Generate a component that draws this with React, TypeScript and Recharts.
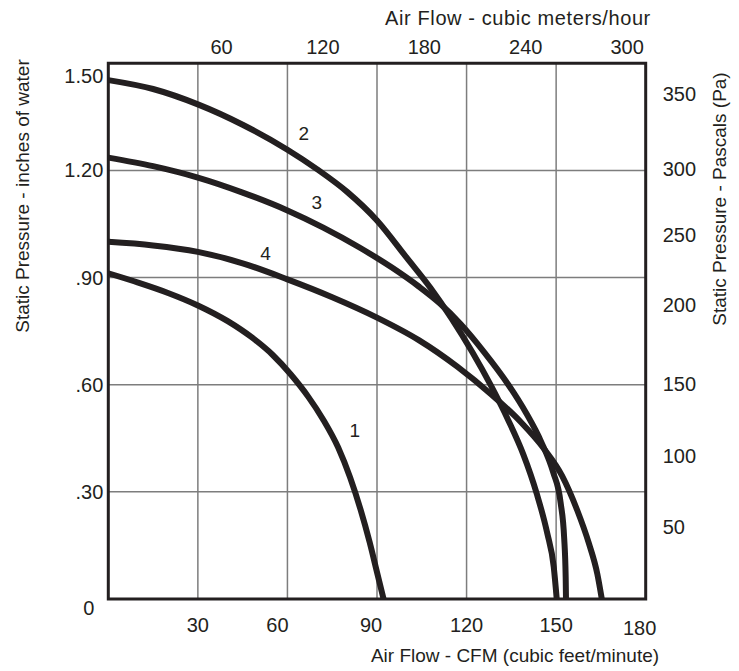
import React from 'react';
import {
  ComposedChart,
  Line,
  XAxis,
  YAxis,
  CartesianGrid,
  ReferenceArea,
  ReferenceDot,
} from 'recharts';

// ---- data (air flow in CFM, static pressure in inches of water) ----
const curve1Flow = [0, 10, 20, 30, 40, 48, 55, 61, 67, 72, 77, 81, 84.5, 87.5, 90, 92.2];
const curve1Pressure = [0.912, 0.886, 0.857, 0.822, 0.778, 0.733, 0.684, 0.63, 0.566, 0.502, 0.424, 0.34, 0.25, 0.16, 0.075, 0];

const curve2Flow = [0, 15, 30, 45, 60, 70, 80, 90, 100, 108, 115, 122, 128, 134, 139, 143.5, 147, 149.2, 150.2];
const curve2Pressure = [1.453, 1.428, 1.385, 1.328, 1.258, 1.203, 1.14, 1.06, 0.955, 0.87, 0.785, 0.69, 0.6, 0.5, 0.405, 0.295, 0.185, 0.09, 0];

const curve3Flow = [0, 15, 30, 45, 60, 72, 84, 95, 104, 111, 118, 126, 134, 140, 145, 149, 151.5, 152.7, 153.2, 153.3];
const curve3Pressure = [1.236, 1.212, 1.18, 1.138, 1.088, 1.04, 0.985, 0.928, 0.875, 0.828, 0.77, 0.69, 0.6, 0.52, 0.44, 0.355, 0.27, 0.17, 0.06, 0];

const curve4Flow = [0, 15, 30, 45, 60, 75, 90, 104, 117, 128, 138, 146, 152, 157, 161, 163.8, 165.3];
const curve4Pressure = [1.0, 0.99, 0.972, 0.94, 0.895, 0.845, 0.788, 0.725, 0.65, 0.575, 0.497, 0.42, 0.345, 0.25, 0.155, 0.07, 0];

const curveNames = ['1', '2', '3', '4'];
const curveLabelFlow = [82.6, 65.5, 69.8, 52.7];
const curveLabelPressure = [0.473, 1.305, 1.112, 0.968];

const cfmTicks = [30, 60, 90, 120, 150, 180];
const cmhTicks = [60, 120, 180, 240, 300];
const inchTicks = [0, 0.3, 0.6, 0.9, 1.2, 1.5];
const inchTickLabels = ['0', '.30', '.60', '.90', '1.20', '1.50'];
const pascalTicks = [50, 100, 150, 200, 250, 300, 350];

const CMH_PER_CFM = 1.699;
const PA_PER_INCH = 249.09;
// the printed metric scale of the original artwork is slightly offset
const metricDomain = [-7, 311];

const titleTop = 'Air Flow - cubic meters/hour';
const titleBottom = 'Air Flow - CFM (cubic feet/minute)';
const titleLeft = 'Static Pressure - inches of water';
const titleRight = 'Static Pressure - Pascals (Pa)';

// ---- styling ----
const INK = '#231f20';
const GRID = '#7d7d7d';
const FONT = '"Liberation Sans", Arial, Helvetica, sans-serif';
const FS = 19;
const TICK_FS = 20;

const toSeries = (f: number[], p: number[]) => f.map((x, i) => ({ cfm: x, inH2O: p[i] }));
const series = [
  toSeries(curve1Flow, curve1Pressure),
  toSeries(curve2Flow, curve2Pressure),
  toSeries(curve3Flow, curve3Pressure),
  toSeries(curve4Flow, curve4Pressure),
];
// metric flow axis carrier (same physical range as the CFM axis)
const metricAxisData = [{ cmh: 0 }, { cmh: 180 * CMH_PER_CFM }];

// small label nudges seen in the original artwork
const bottomTickNudge: Record<number, [number, number]> = { 60: [-10, 0], 90: [-6, 0], 180: [-6, 3] };
const leftTickNudge: Record<number, [number, number]> = { 1.5: [0, 13], 0: [-9, 9] };
const rightTickNudge: Record<number, number> = { 350: -3, 250: -6, 200: -7 };

const BottomTick = (props: any) => {
  const { x, y, payload } = props;
  const n = bottomTickNudge[payload.value] || [0, 0];
  return (
    <text x={x + n[0]} y={y + 26 + n[1]} dy="0.35em" textAnchor="middle" fontSize={TICK_FS} fill={INK} fontFamily={FONT}>
      {payload.value}
    </text>
  );
};

const TopTick = (props: any) => {
  const { x, y, payload } = props;
  return (
    <text x={x} y={y - 16} dy="0.35em" textAnchor="middle" fontSize={TICK_FS} fill={INK} fontFamily={FONT}>
      {Math.round(payload.value)}
    </text>
  );
};

const LeftTick = (props: any) => {
  const { x, y, payload, index } = props;
  const n = leftTickNudge[payload.value] || [0, 0];
  const idx = inchTicks.indexOf(payload.value);
  const label = idx >= 0 ? inchTickLabels[idx] : inchTickLabels[index];
  return (
    <text x={x - 5 + n[0]} y={y + n[1]} dy="0.35em" textAnchor="end" fontSize={TICK_FS} fill={INK} fontFamily={FONT}>
      {label}
    </text>
  );
};

const RightTick = (props: any) => {
  const { x, y, payload } = props;
  const n = rightTickNudge[payload.value] || 0;
  return (
    <text x={x + 17} y={y + n} dy="0.35em" textAnchor="start" fontSize={TICK_FS} fill={INK} fontFamily={FONT}>
      {payload.value}
    </text>
  );
};

const titleStyle = (cx: number, cy: number, rotate: boolean, size: number, spacing = 0): React.CSSProperties => ({
  position: 'absolute',
  left: cx,
  top: cy,
  transform: `translate(-50%, -50%)${rotate ? ' rotate(-90deg)' : ''}`,
  whiteSpace: 'nowrap',
  fontSize: size,
  letterSpacing: spacing,
  lineHeight: 1,
  color: INK,
  fontFamily: FONT,
});

export default function App() {
  return (
    <div style={{ position: 'absolute', left: 0, top: 0, width: 739, height: 671, background: '#fff', fontFamily: FONT }}>
      <ComposedChart width={739} height={671} margin={{ top: 33.3, right: 33.3, bottom: 42, left: 48.3 }}>
        <XAxis
          xAxisId="bottom"
          dataKey="cfm"
          type="number"
          domain={[0, 180]}
          ticks={cfmTicks}
          interval={0}
          allowDataOverflow
          height={30}
          axisLine={false}
          tickLine={false}
          tickSize={0}
          tickMargin={0}
          tick={BottomTick}
        />
        <XAxis
          xAxisId="top"
          dataKey="cmh"
          orientation="top"
          type="number"
          domain={metricDomain}
          ticks={cmhTicks}
          interval={0}
          allowDataOverflow
          height={30}
          axisLine={false}
          tickLine={false}
          tickSize={0}
          tickMargin={0}
          tick={TopTick}
        />
        <YAxis
          yAxisId="left"
          type="number"
          domain={[0, 1.5]}
          ticks={inchTicks}
          interval={0}
          allowDataOverflow
          width={60}
          axisLine={false}
          tickLine={false}
          tickSize={0}
          tickMargin={0}
          tick={LeftTick}
        />
        <YAxis
          yAxisId="right"
          orientation="right"
          type="number"
          domain={[0, 1.5 * PA_PER_INCH]}
          ticks={pascalTicks}
          interval={0}
          allowDataOverflow
          width={60}
          axisLine={false}
          tickLine={false}
          tickSize={0}
          tickMargin={0}
          tick={RightTick}
        />
        <CartesianGrid xAxisId="bottom" yAxisId="left" stroke={GRID} strokeWidth={1.5} />
        <Line
          data={metricAxisData}
          xAxisId="top"
          yAxisId="left"
          dataKey="none"
          stroke="none"
          dot={false}
          activeDot={false}
          legendType="none"
          isAnimationActive={false}
        />
        {series.map((d, i) => (
          <Line
            key={i}
            data={d}
            xAxisId="bottom"
            yAxisId="left"
            dataKey="inH2O"
            type="monotone"
            stroke={INK}
            strokeWidth={6}
            dot={false}
            activeDot={false}
            isAnimationActive={false}
          />
        ))}
        <ReferenceArea
          xAxisId="bottom"
          yAxisId="left"
          x1={0}
          x2={180}
          y1={0}
          y2={1.5}
          fill="none"
          fillOpacity={0}
          stroke={INK}
          strokeWidth={3}
          ifOverflow="visible"
        />
        {curveNames.map((name, i) => (
          <ReferenceDot
            key={name}
            xAxisId="bottom"
            yAxisId="left"
            x={curveLabelFlow[i]}
            y={curveLabelPressure[i]}
            r={0}
            fill="none"
            stroke="none"
            ifOverflow="visible"
            label={{ value: name, position: 'center', fontSize: FS, fill: INK, fontFamily: FONT }}
          />
        ))}
      </ComposedChart>
      <div style={titleStyle(518, 18, false, 20, 0.6)}>{titleTop}</div>
      <div style={titleStyle(515, 655, false, FS)}>{titleBottom}</div>
      <div style={titleStyle(22, 196, true, FS)}>{titleLeft}</div>
      <div style={titleStyle(719, 199, true, FS)}>{titleRight}</div>
    </div>
  );
}
